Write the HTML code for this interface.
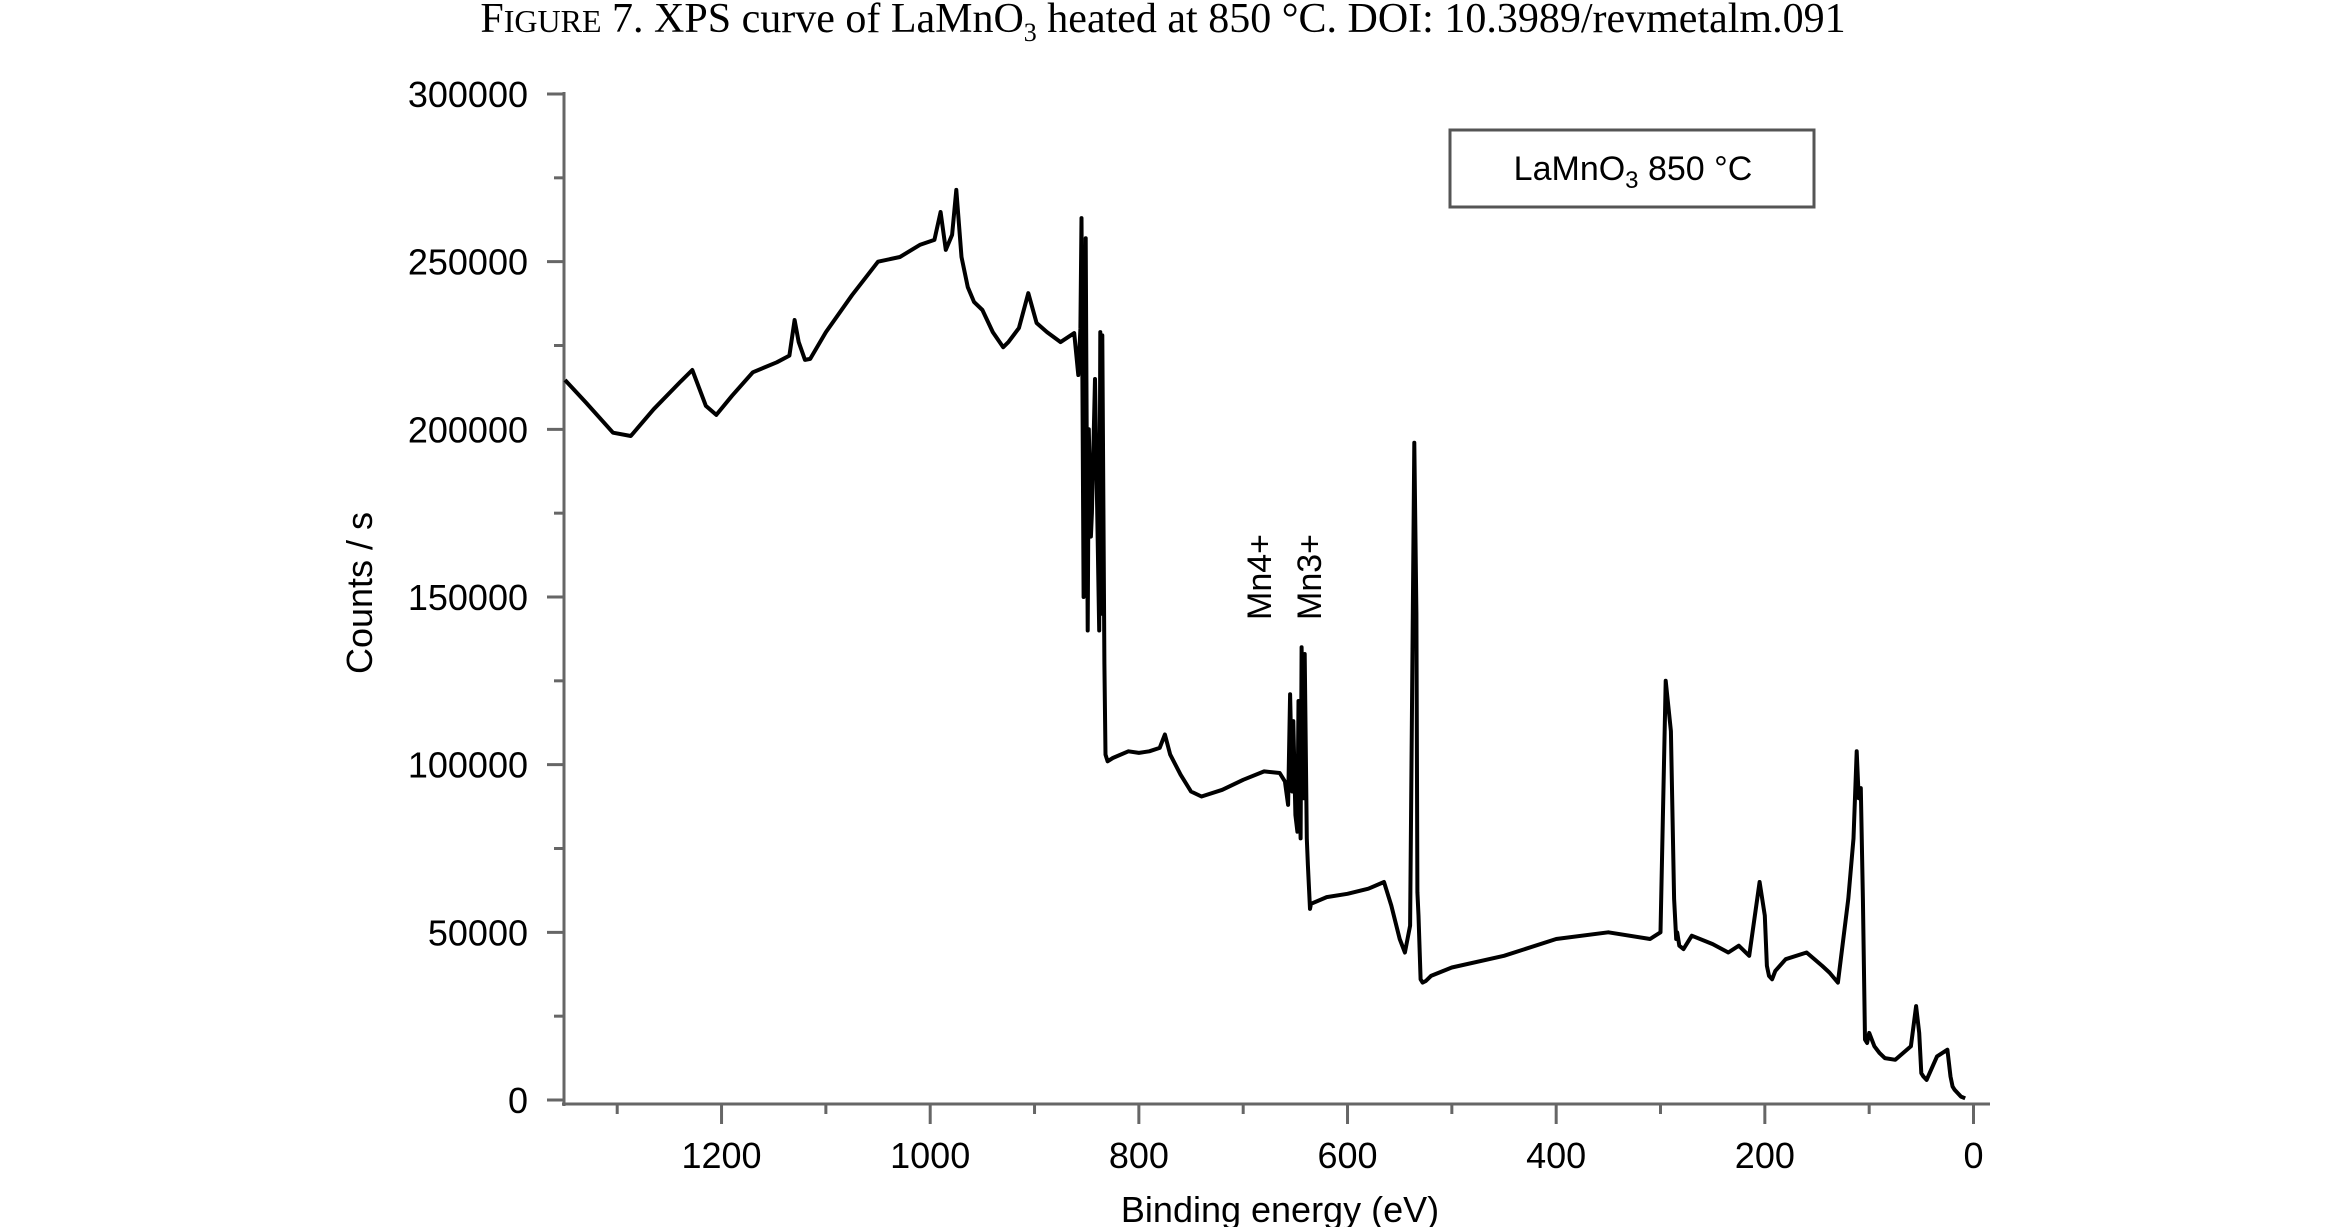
<!DOCTYPE html>
<html><head><meta charset="utf-8"><style>
html,body{margin:0;padding:0;background:#fff;}
svg{display:block;}
text{font-family:"Liberation Sans",sans-serif;fill:#000;}
</style></head><body>
<svg id="chart" width="2329" height="1227" viewBox="0 0 2329 1227" xmlns="http://www.w3.org/2000/svg">
<text x="1163" y="32" text-anchor="middle" style="font-family:'Liberation Serif',serif;font-size:42px;">F<tspan style="font-size:32px">IGURE</tspan> 7.    XPS curve of LaMnO<tspan style="font-size:26px" dy="9">3</tspan><tspan dy="-9"> heated at 850 °C. DOI: 10.3989/revmetalm.091</tspan></text>
<g id="axes"></g>
<path id="curve" fill="none" stroke="#000" stroke-width="4" stroke-linejoin="round"/>
<text transform="translate(372,593) rotate(-90)" text-anchor="middle" style="font-size:36px;">Counts / s</text>
<text x="1280" y="1222" text-anchor="middle" style="font-size:36px;">Binding energy (eV)</text>
<text transform="translate(1271,620) rotate(-90)" style="font-size:34px;">Mn4+</text>
<text transform="translate(1321,620) rotate(-90)" style="font-size:34px;">Mn3+</text>
<g>
<rect x="1450" y="130" width="364" height="77" fill="#fff" stroke="#555" stroke-width="3"/>
<text x="1633" y="180" text-anchor="middle" style="font-size:34px;">LaMnO<tspan dy="8" style="font-size:24px">3</tspan><tspan dy="-8"> 850 °C</tspan></text>
</g>
</svg>
<script>
const energies=[1350,1330,1304,1287,1265,1240,1228,1215,1205,1190,1170,1147,1135,1130,1126,1120,1115,1100,1075,1050,1029,1010,996,990,985,979,975,970,964,958,950,940,930,925,915,906,898,888,875,862,858,856,855,853,851,849,848,846,845,842,838,837,836,835,833,832,830,825,810,800,790,780,775,770,760,750,740,720,700,680,665,660,657,655,653,652,650,648,647,645,644,642,641,639,638,636,635,620,600,580,565,558,550,545,540,536,534,533,532,530,528,525,520,500,450,400,350,310,300,295,290,287,285,284,282,278,270,250,235,225,215,205,200,198,196,193,190,180,160,145,138,130,120,115,112,110,108,106,104,102,100,95,90,85,75,60,55,52,50,48,45,35,25,22,20,18,12,8,3,0];
const counts=[214700,208000,199000,198000,206000,214000,217700,207000,204300,210000,217000,220000,222000,232600,226000,220700,221000,229000,240000,250000,251400,255000,256500,264800,253500,258000,271400,251400,242400,238000,235600,229000,224500,226000,230200,240600,231700,229000,226000,228700,216200,230000,263000,150000,257000,140000,200000,168000,175000,215000,140000,229000,145000,228000,130000,103000,101000,102000,104000,103500,104000,105000,109000,103000,97000,92000,90500,92500,95500,98000,97500,95000,88000,121000,92000,113000,85000,80000,119000,78000,135000,90000,133000,78000,70000,57000,58500,60500,61500,63000,65000,58000,48000,44000,52000,196000,145000,62000,55000,36000,35000,35500,37000,39500,43000,48000,50000,48000,50000,125000,110000,60000,48000,50000,46000,45000,49000,46500,44000,46000,43000,65000,55000,40000,37000,36000,38500,42000,44000,40000,38000,35000,60000,78000,104000,90000,93000,60000,18000,17000,20000,16000,14000,12500,12000,16000,28000,20000,8000,7000,6000,13000,15000,7000,4000,3000,1000,500];
const xMajorTicks=[1200,1000,800,600,400,200,0];
const yMajorTicks=[0,50000,100000,150000,200000,250000,300000];
const X0=1973.5, XS=1.0433, Y0=1100, YS=1006/300000;
function xs(e){return X0-e*XS;}
function ys(c){return Y0-c*YS;}
const NS="http://www.w3.org/2000/svg";
const axes=document.getElementById('axes');
function ln(x1,y1,x2,y2,name,w){const l=document.createElementNS(NS,'line');
l.setAttribute('x1',x1);l.setAttribute('y1',y1);l.setAttribute('x2',x2);l.setAttribute('y2',y2);
l.setAttribute('stroke','#666');l.setAttribute('stroke-width',w||3);


axes.appendChild(l);}
function tx(x,y,s,anchor,name){const t=document.createElementNS(NS,'text');
t.setAttribute('x',x);t.setAttribute('y',y);t.setAttribute('text-anchor',anchor);t.style.fontSize='36px';t.textContent=s;


axes.appendChild(t);}
ln(564,92,564,1106,'y-axis-line');
ln(562,1104,1990,1104,'x-axis-line');
for(let v=0;v<=300000;v+=25000){const major=v%50000===0;ln(major?547:554,ys(v),564,ys(v),'y-tick');}
yMajorTicks.forEach(v=>tx(528,ys(v)+13,String(v),'end','y-tick-label'));
for(let e=1300;e>=0;e-=100){const major=e%200===0;ln(xs(e),1104,xs(e),major?1124:1114,'x-tick');}
xMajorTicks.forEach(e=>tx(xs(e),1168,String(e),'middle','x-tick-label'));
let d='';
energies.forEach((e,i)=>{d+=(i?'L':'M')+xs(e).toFixed(1)+','+ys(counts[i]).toFixed(1);});
document.getElementById('curve').setAttribute('d',d);
</script>
</body></html>
